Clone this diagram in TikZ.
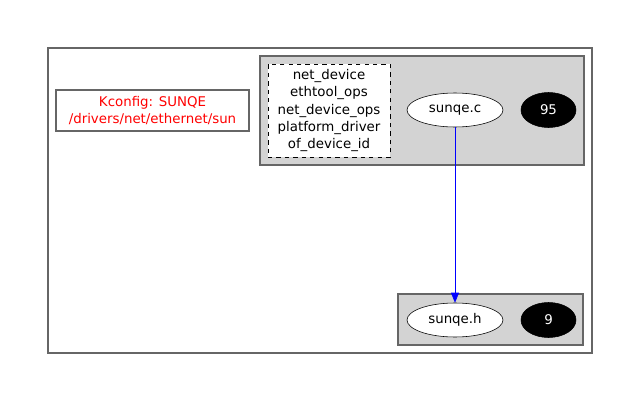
\documentclass[tikz,border=0pt]{standalone}
\usepackage{fontspec}
\setmainfont{DejaVu Sans}
\usetikzlibrary{arrows.meta, positioning, shapes.geometric}
\definecolor{clusterfill}{HTML}{D3D3D3}
\definecolor{clusterline}{HTML}{666666}
\definecolor{deplink}{HTML}{0000FF}
\definecolor{kconfigtext}{HTML}{FF0000}

\begin{document}
\begin{tikzpicture}[
        x=0.025cm, y=-0.025cm,
        font=\fontsize{9.5}{12.3}\selectfont,
        outerbox/.style={draw=clusterline, thick, minimum width=544*0.025cm, minimum height=305*0.025cm},
        kconfigbox/.style={draw=clusterline, thick, text=kconfigtext, align=center,
            minimum width=193*0.025cm, minimum height=41*0.025cm},
        cluster/.style={draw=clusterline, thick, fill=clusterfill},
        symbols/.style={draw, dashed, fill=white, align=center, inner sep=0pt,
            minimum width=122*0.025cm, minimum height=93*0.025cm},
        srcfile/.style={draw, ellipse, fill=white, inner sep=0pt,
            minimum width=96*0.025cm, minimum height=34*0.025cm},
        counter/.style={draw, ellipse, fill=black, text=white, inner sep=0pt,
            minimum width=55*0.025cm, minimum height=35*0.025cm},
        include/.style={-{Triangle[length=2.5mm, width=2mm]}, deplink}
    ]
        \useasboundingbox (0,0) rectangle (640,402);
        \node[outerbox] (module) at (320,200.5) {};
        \node[kconfigbox] (kconfig) at (152.5,110.5) {Kconfig: SUNQE\\/drivers/net/ethernet/sun};

        % cluster for sunqe.c
        \node[cluster, minimum width=324*0.025cm, minimum height=109*0.025cm] (cfile) at (422,110.5) {};
        \node[symbols] (structs) at (329,110.5)
            {net\_device\\ethtool\_ops\\net\_device\_ops\\platform\_driver\\of\_device\_id};
        \node[srcfile] (sunqec) at (455,110) {sunqe.c};
        \node[counter] (cnum) at (548.5,110) {95};

        % cluster for sunqe.h
        \node[cluster, minimum width=185*0.025cm, minimum height=51*0.025cm] (hfile) at (490.5,319.5) {};
        \node[srcfile] (sunqeh) at (455,320) {sunqe.h};
        \node[counter] (hnum) at (548.5,320) {9};

        \draw[include] (sunqec.south) -- (sunqeh.north);
    \end{tikzpicture}
\end{document}
